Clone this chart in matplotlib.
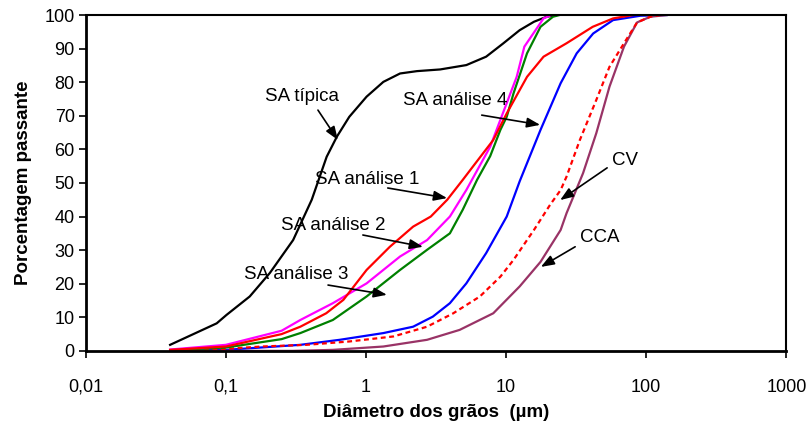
import matplotlib.pyplot as plt
from matplotlib.ticker import FixedLocator, FixedFormatter, NullLocator

plt.rcParams["font.family"] = ["Liberation Sans", "DejaVu Sans"]

# particle size distributions (diameter in um, percentage passing)
sa_tipica_x = [0.04, 0.086, 0.101, 0.148, 0.206, 0.302, 0.41, 0.524, 0.62, 0.76, 1.01, 1.33, 1.75,
               2.31, 3.38, 5.2, 7.2, 9.5, 12.5, 15.8, 19.5, 23]
sa_tipica_y = [1.8, 8.2, 10.7, 16.2, 23.2, 33.0, 45.0, 57.8, 63.8, 69.7, 75.7, 80.1, 82.6,
               83.3, 83.8, 85.1, 87.6, 91.5, 95.5, 98.0, 99.5, 100]

sa_1_x = [0.04, 0.1, 0.25, 0.34, 0.52, 0.69, 1.01, 1.48, 2.17, 2.9, 3.8, 4.9, 5.8, 8.1, 10.1,
          14.1, 18.5, 27, 41.5, 58, 81]
sa_1_y = [0.3, 1.3, 5.0, 7.2, 11.2, 15.2, 24.1, 31, 37, 40, 45, 50.9, 54.9, 62.8, 70.7,
          81.6, 87.6, 91.6, 96.5, 99, 100]

sa_2_x = [0.04, 0.1, 0.25, 0.34, 0.58, 1.01, 1.75, 2.73, 3.97, 5.2, 7.7, 9.1, 11.9, 13.5, 18.5, 21]
sa_2_y = [0.4, 1.8, 6.0, 9.2, 14.2, 20.1, 28.1, 33, 40, 47.9, 60.8, 68.8, 81.6, 90.6, 99, 100]

sa_3_x = [0.04, 0.1, 0.25, 0.34, 0.58, 1.01, 1.75, 2.73, 3.97, 4.9, 6.2, 7.7, 9.1, 10.1, 11.3,
          14.1, 17.6, 21.6, 24]
sa_3_y = [0.2, 1.0, 3.5, 5.3, 9.2, 16.2, 24.1, 30.1, 35, 42, 50.9, 58, 65.8, 69.7, 76.7,
          88.6, 96.5, 99.5, 100]

sa_4_x = [0.04, 0.1, 0.34, 0.65, 1.33, 2.17, 3.0, 3.97, 5.2, 7.2, 10.1, 12.5, 17.6, 24.5, 31.9,
          41.8, 58, 91, 140]
sa_4_y = [0.0, 0.3, 1.8, 3.3, 5.3, 7.2, 10.2, 14.2, 20.1, 29.1, 40, 50.5, 65.8, 79.7, 88.6,
          94.5, 98.5, 99.8, 100]

cv_x = [0.04, 0.1, 0.18, 0.376, 0.76, 1.57, 2.73, 4.2, 6.5, 9.1, 11.3, 14.1, 15.8, 20.6, 24.5,
        27, 33.6, 44, 54.7, 69.4, 86, 107, 125]
cv_y = [0.2, 0.6, 1.3, 1.8, 2.8, 4.3, 7.2, 11.2, 16.2, 22.1, 27.1, 33, 36, 43.5, 47.9,
        51.9, 62.8, 74.7, 84.6, 91.6, 97.8, 99.5, 100]

cca_x = [0.04, 0.3, 0.58, 1.33, 2.73, 4.66, 8.1, 12.5, 17.6, 24.5, 27, 35.4, 44, 54.7, 69.4,
         86, 107, 140]
cca_y = [0.0, 0.0, 0.3, 1.3, 3.3, 6.25, 11.2, 19.2, 26.5, 36, 41, 52.9, 64.8, 78.7, 90.6,
         97.8, 99.5, 100]

x_ticks = [0.01, 0.1, 1, 10, 100, 1000]
x_tick_labels = ["0,01", "0,1", "1", "10", "100", "1000"]
y_ticks = list(range(0, 101, 10))

# label text, text centre, arrow tail, arrow tip
labels = [
    ("SA típica", (0.349, 75.6), (0.454, 71.7), (0.63, 62.8)),
    ("SA análise 4", (4.32, 74.7), (6.7, 70.2), (17.5, 67.3)),
    ("SA análise 1", (1.02, 50.9), (1.43, 48.5), (3.79, 45.5)),
    ("SA análise 2", (0.58, 37.2), (0.95, 34.5), (2.55, 31.0)),
    ("SA análise 3", (0.32, 22.6), (0.536, 19.6), (1.41, 16.7)),
    ("CV", (70.8, 56.8), (52.6, 54.5), (24.3, 44.9)),
    ("CCA", (46.9, 33.9), (31.1, 31.0), (17.7, 25.0)),
]

fig = plt.figure(figsize=(8.09, 4.30), dpi=100)
ax = fig.add_axes([0.106, 0.184, 0.866, 0.781])

ax.plot(sa_tipica_x, sa_tipica_y, color="#000000", linewidth=1.6)
ax.plot(sa_4_x, sa_4_y, color="#0000FF", linewidth=1.6)
ax.plot(cca_x, cca_y, color="#993366", linewidth=1.6)
ax.plot(cv_x, cv_y, color="#FF0000", linewidth=1.6, linestyle=(0, (2.2, 1.6)))
ax.plot(sa_3_x, sa_3_y, color="#008000", linewidth=1.6)
ax.plot(sa_2_x, sa_2_y, color="#FF00FF", linewidth=1.6)
ax.plot(sa_1_x, sa_1_y, color="#FF0000", linewidth=1.6)

for text, pos, tail, tip in labels:
    ax.text(pos[0], pos[1], text, fontsize=13.5, ha="center", va="center")
    ax.annotate("", xy=tip, xytext=tail,
                arrowprops=dict(arrowstyle="-|>,head_length=0.8,head_width=0.3",
                                color="black", linewidth=1.2, shrinkA=0, shrinkB=0))

ax.set_xscale("log")
ax.set_xlim(0.01, 1000)
ax.set_ylim(0, 100)
ax.xaxis.set_major_locator(FixedLocator(x_ticks))
ax.xaxis.set_major_formatter(FixedFormatter(x_tick_labels))
ax.xaxis.set_minor_locator(NullLocator())
ax.set_yticks(y_ticks)

ax.tick_params(axis="x", direction="out", length=5, width=1.2, pad=15, labelsize=13)
ax.tick_params(axis="y", direction="out", length=5, width=1.2, pad=3, labelsize=13)
for side in ["left", "bottom"]:
    ax.spines[side].set_linewidth(2.0)
for side in ["top", "right"]:
    ax.spines[side].set_linewidth(1.5)

ax.set_xlabel("Diâmetro dos grãos  (µm)", fontsize=13.5, fontweight="bold", labelpad=6)
ax.set_ylabel("Porcentagem passante", fontsize=13.5, fontweight="bold", labelpad=9)

fig.savefig("out.png", dpi=100)
